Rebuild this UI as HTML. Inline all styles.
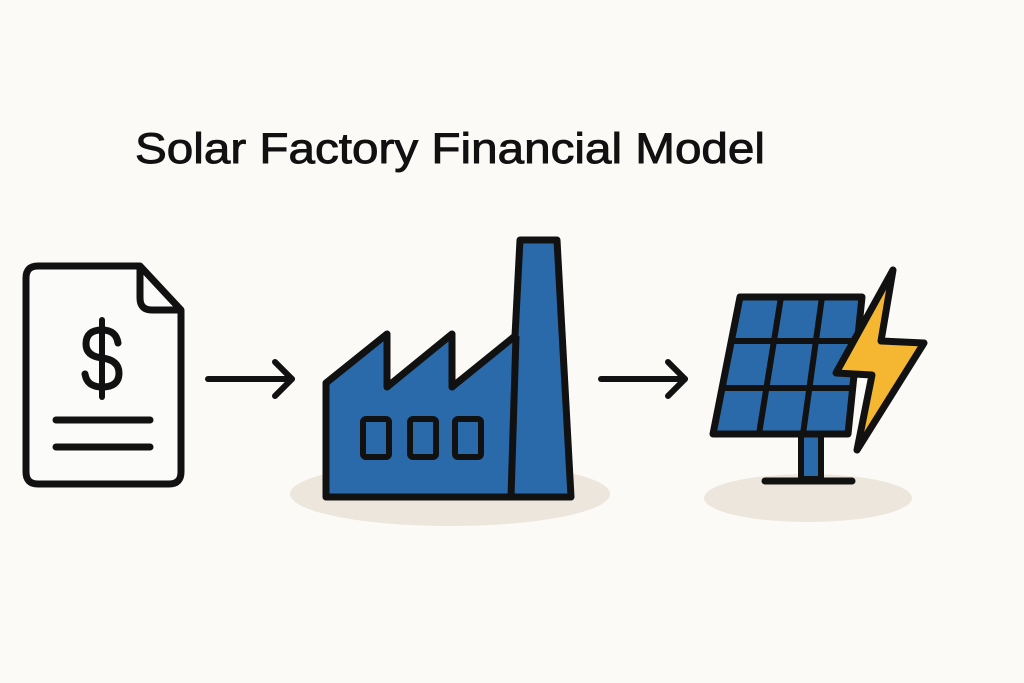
<!DOCTYPE html>
<html><head><meta charset="utf-8"><style>
html,body{margin:0;padding:0;background:#fbfaf7;}
svg{display:block}
</style></head><body>
<svg width="1024" height="683" viewBox="0 0 1024 683" xmlns="http://www.w3.org/2000/svg">
<rect width="1024" height="683" fill="#fbfaf7"/>
<text x="135" y="163" font-family="Liberation Sans, sans-serif" font-size="43" fill="#111" stroke="#111" stroke-width="0.9" textLength="630" lengthAdjust="spacingAndGlyphs">Solar Factory Financial Model</text>
<!-- document -->
<path d="M38 266 L140 266 L181 310 L181 472 Q181 484 169 484 L38 484 Q26 484 26 472 L26 278 Q26 266 38 266 Z" fill="#fbfbfa" stroke="#111" stroke-width="7" stroke-linejoin="round"/>
<path d="M140 266 L140 298 Q140 310 152 310 L181 310" fill="none" stroke="#111" stroke-width="7" stroke-linejoin="round"/>
<line x1="102" y1="320" x2="102" y2="397" stroke="#111" stroke-width="6" stroke-linecap="round"/>
<path d="M118 343 Q116 330 102 330 Q86 330 86 344 Q86 356 102 358 Q119 360 119 373 Q119 387 102 387 Q87 387 85 374" fill="none" stroke="#111" stroke-width="7" stroke-linecap="round"/>
<line x1="56" y1="420" x2="150" y2="420" stroke="#111" stroke-width="7" stroke-linecap="round"/>
<line x1="56" y1="447" x2="150" y2="447" stroke="#111" stroke-width="7" stroke-linecap="round"/>
<!-- arrows -->
<g stroke="#111" stroke-width="6" stroke-linecap="round" stroke-linejoin="round" fill="none">
<line x1="208" y1="379" x2="292" y2="379"/><path d="M275 362 L292 379 L275 396"/>
<line x1="601" y1="379" x2="685" y2="379"/><path d="M668 362 L685 379 L668 396"/>
</g>
<!-- factory -->
<ellipse cx="450" cy="494" rx="160" ry="32" fill="#ede6dc"/>
<path d="M326 497 L326 383 L387 334 L387 387 L452 334 L452 387 L515 336 L520 240 L557 240 L571 497 Z" fill="#2a6aab" stroke="#111" stroke-width="7" stroke-linejoin="round"/>
<line x1="516" y1="336" x2="511" y2="497" stroke="#111" stroke-width="7"/>
<g fill="none" stroke="#111" stroke-width="6">
<rect x="363" y="419" width="26" height="38" rx="3"/>
<rect x="410" y="419" width="26" height="38" rx="3"/>
<rect x="455" y="419" width="26" height="38" rx="3"/>
</g>
<!-- solar -->
<ellipse cx="808" cy="498" rx="104" ry="24" fill="#ede6dc"/>
<rect x="801" y="433" width="20" height="46" fill="#2a6aab" stroke="#111" stroke-width="6"/>
<line x1="765" y1="481" x2="852" y2="481" stroke="#111" stroke-width="7" stroke-linecap="round"/>
<path d="M740 297 L862 297 L848 434 L713 434 Z" fill="#2a6aab" stroke="#111" stroke-width="7" stroke-linejoin="round"/>
<g stroke="#111" stroke-width="6">
<line x1="729" y1="341" x2="857" y2="341"/>
<line x1="722" y1="388" x2="853" y2="388"/>
<line x1="781" y1="297" x2="759" y2="434"/>
<line x1="822" y1="297" x2="803" y2="434"/>
</g>
<path d="M893 270 L836 373 L872 375 L857 450 L924 343 L881 341 Z" fill="#f5b731" stroke="#111" stroke-width="7" stroke-linejoin="round"/>
</svg>
</body></html>
